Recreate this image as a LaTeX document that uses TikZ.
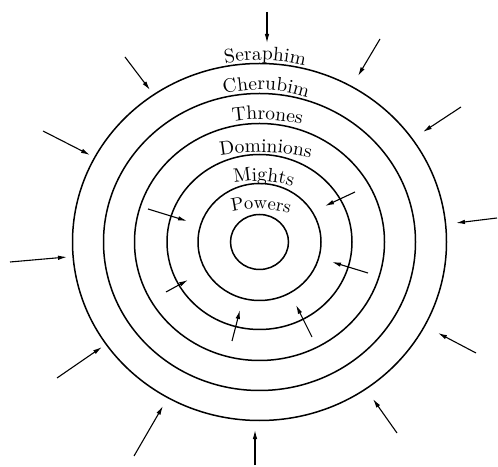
\documentclass[tikz,border=0pt]{standalone}
\usepackage{fontspec}
\usetikzlibrary{arrows.meta,decorations.text}

\newfontfamily\choirfamily{lmroman10-regular}[Extension=.otf, LetterSpace=5]
\newcommand{\choirfont}{\choirfamily\fontsize{19.5}{22}\selectfont}
\newcommand{\innerfont}{\choirfamily\fontsize{18.5}{21}\selectfont}

\begin{document}
\begin{tikzpicture}[
        x=1pt, y=1pt,
        ring/.style={
            line width=1.5pt,
            draw=black
        },
        ray/.style={
            -{Latex[length=9pt,width=4.5pt]},
            line width=1.1pt,
            draw=black
        },
        choirLabel/.style={
            decorate,
            decoration={
                text along path,
                text align=center,
                text={|\choirfont|#1}
            }
        },
        innerLabel/.style={
            decorate,
            decoration={
                text along path,
                text align=center,
                text={|\innerfont|#1}
            }
        }
    ]

        \useasboundingbox (0,0) rectangle (498,466);
        \coordinate (centre) at (259.5,224);

        % Concentric rings
        \foreach \rx/\ry in {29/27.5, 61.5/58.5, 92.5/87.5, 125/118.5, 156/148.5, 187/178.5}
        {
            \draw[ring] (centre) ellipse[x radius=\rx, y radius=\ry];
        }

        % Names of the choirs
        \path[choirLabel=Seraphim]
            (259.5,221) ++({88.3+60}:185) arc[start angle=88.3+60, end angle=88.3-60, radius=185];
        \path[choirLabel=Cherubim]
            (259.5,221) ++({87.6+60}:155) arc[start angle=87.6+60, end angle=87.6-60, radius=155];
        \path[choirLabel=Thrones]
            (259.5,166.5) ++({87.5+60}:180) arc[start angle=87.5+60, end angle=87.5-60, radius=180];
        \path[choirLabel=Dominions]
            (259.5,84) ++({88.5+40}:230) arc[start angle=88.5+40, end angle=88.5-40, radius=230];
        \path[choirLabel=Mights]
            (257,165) ++({86.9+60}:120) arc[start angle=86.9+60, end angle=86.9-60, radius=120];
        \path[innerLabel=Powers]
            (257,147) ++({88+60}:110) arc[start angle=88+60, end angle=88-60, radius=110];

        % Outer arrows
        \foreach \id/\sx/\sy/\ex/\ey in {
            o1/267/454/267/423, o2/380/427/358/390, o3/461/359/423/334,
            o4/497/248/456/243, o5/476/113/438/133, o6/397/33/373/67,
            o7/255/1/255/36, o8/134/10/163/60, o9/57/88/102/119,
            o10/10/204/67/209, o11/43/335/90/311, o12/125/409/150/376}
        {
            \coordinate (\id-tail) at (\sx,\sy);
            \coordinate (\id-head) at (\ex,\ey);
            \draw[ray] (\id-tail) -- (\id-head);
        }

        % Inner arrows
        \foreach \id/\sx/\sy/\ex/\ey in {
            i1/148/257/187/245, i2/355/274/325/260, i3/368/193/332/204,
            i4/166/174/188/186, i5/232/125/240/156, i6/312/129/296/161}
        {
            \coordinate (\id-tail) at (\sx,\sy);
            \coordinate (\id-head) at (\ex,\ey);
            \draw[ray] (\id-tail) -- (\id-head);
        }

    \end{tikzpicture}
\end{document}
